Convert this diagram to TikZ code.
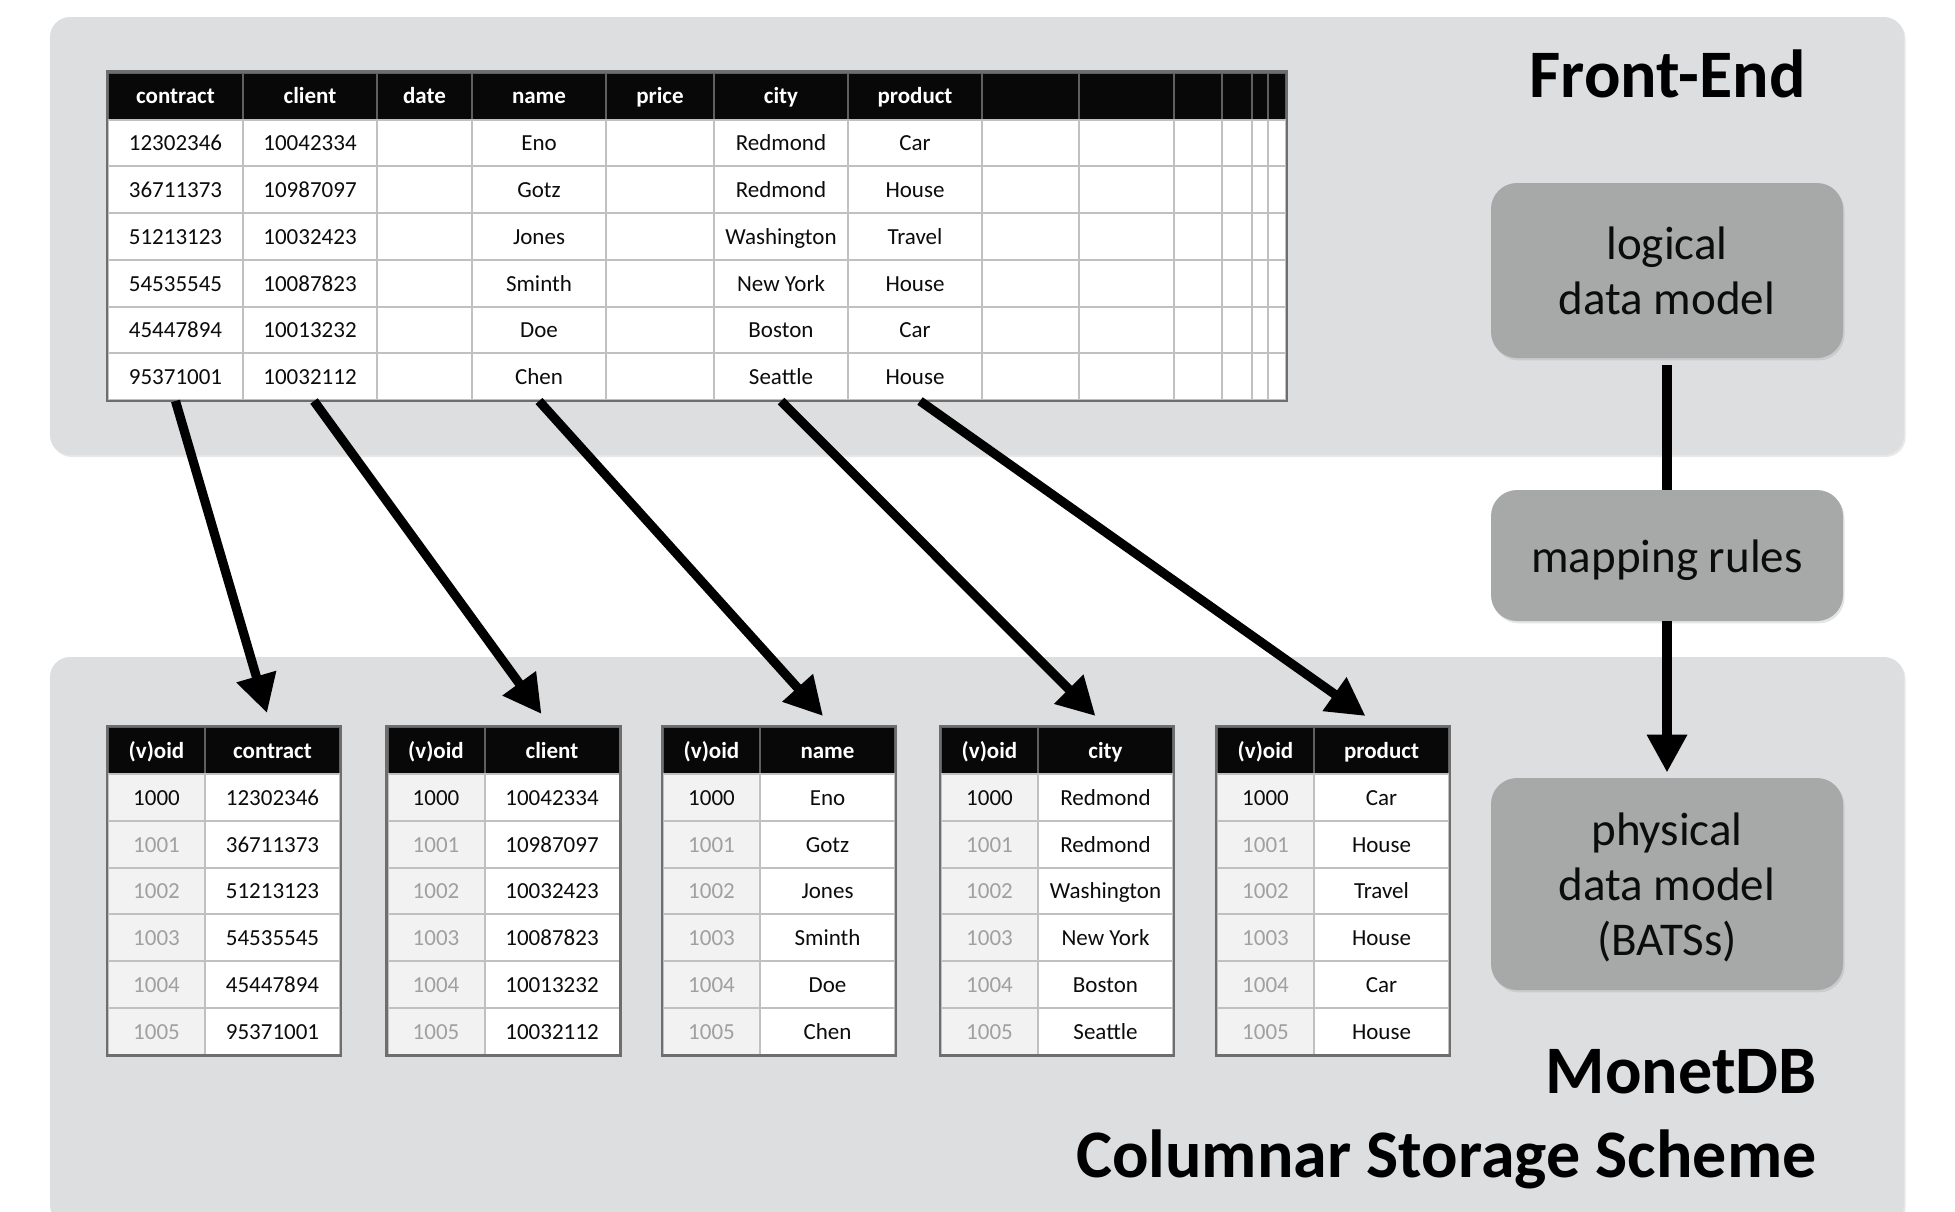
\documentclass[tikz,border=0pt]{standalone}
\usepackage{fontspec}
\setmainfont{Carlito}
\usetikzlibrary{arrows.meta,shadows}
\definecolor{panelgray}{RGB}{221,222,224}
\definecolor{boxgray}{RGB}{166,169,168}
\definecolor{gridgray}{RGB}{192,192,192}
\definecolor{edgegray}{RGB}{110,110,110}
\definecolor{hdrline}{RGB}{95,95,95}
\definecolor{voidfill}{RGB}{242,242,242}
\definecolor{oidgray}{RGB}{160,160,160}
\definecolor{hdrblack}{RGB}{8,8,8}
\definecolor{txtblack}{RGB}{12,12,12}
\begin{document}
\begin{tikzpicture}[x=0.5pt,y=-0.5pt,
  panel/.style={fill=panelgray, rounded corners=10pt,
    drop shadow={opacity=0.18, shadow xshift=0.8pt, shadow yshift=-1pt}},
  mbox/.style={fill=boxgray, rounded corners=13pt, align=center, inner sep=0pt,
    text=txtblack, font=\fontsize{23.5}{27.5}\selectfont,
    drop shadow={opacity=0.2, shadow xshift=0.8pt, shadow yshift=-1.2pt}},
  bcell/.style={draw=gridgray, line width=1pt, fill=white, rectangle, inner sep=0pt,
    minimum width={(#1)*0.5pt}, minimum height=23.375pt, anchor=north west,
    text height=9.4pt, text depth=1.5pt,
    text=txtblack, font=\fontsize{11.5}{13}\selectfont},
  vcell/.style={bcell=97, fill=voidfill},
  hcell/.style={bcell=#1, fill=hdrblack, draw=hdrline, text=white, minimum height=23.5pt,
    font=\fontsize{11.5}{13}\selectfont\bfseries},
  tableedge/.style={draw=edgegray, line width=1.2pt},
  bigarrow/.style={line width=4.6pt, -{Triangle[length=19pt,width=19.5pt]}},
  title/.style={text=black, font=\fontsize{34}{40}\selectfont\bfseries, inner sep=0pt}
]
\fill[white] (0,0) rectangle (1955,1211);
\useasboundingbox (0,0) rectangle (1955,1211);

% panels
\path[panel] (50,17) rectangle (1904,455);
\path[panel] (50,657) rectangle (1904,1225);

% front-end table header
\foreach \x/\w/\t [count=\k] in {107/135/contract, 242/134/client, 376/95/date, 471/134/name, 605/108/price, 713/134/city, 847/134/product, 981/97/{}, 1078/95/{}, 1173/48/{}, 1221/30/{}, 1251/16/{}, 1267/18/{}}
  \node[hcell=\w] (f-0-\k) at (\x,71.5) {\t};

% bottom table headers
\foreach \tx/\lab [count=\ti] in {107/contract, 386.5/client, 662/name, 940/city, 1216/product}{
  \node[hcell=97] (t\ti-0-1) at (\tx,726) {(v)oid};
  \node[hcell=135] (t\ti-0-2) at (\tx+97,726) {\lab};
}

% rows
\foreach \ri/\oc/\vA/\vB/\vN/\vC/\vP in {
  1/txtblack/12302346/10042334/Eno/Redmond/Car,
  2/oidgray/36711373/10987097/Gotz/Redmond/House,
  3/oidgray/51213123/10032423/Jones/Washington/Travel,
  4/oidgray/54535545/10087823/Sminth/New York/House,
  5/oidgray/45447894/10013232/Doe/Boston/Car,
  6/oidgray/95371001/10032112/Chen/Seattle/House}{
  \pgfmathsetmacro\yy{118.5+(\ri-1)*46.75}
  \pgfmathsetmacro\yb{773+(\ri-1)*46.75}
  \foreach \x/\w/\t [count=\k] in {107/135/\vA, 242/134/\vB, 376/95/{}, 471/134/\vN, 605/108/{}, 713/134/\vC, 847/134/\vP, 981/97/{}, 1078/95/{}, 1173/48/{}, 1221/30/{}, 1251/16/{}, 1267/18/{}}
    \node[bcell=\w] (f-\ri-\k) at (\x,\yy) {\t};
  \foreach \tx/\vv [count=\ti] in {107/\vA, 386.5/\vB, 662/\vN, 940/\vC, 1216/\vP}{
    \node[vcell, text=\oc] (t\ti-\ri-1) at (\tx,\yb) {\the\numexpr999+\ri\relax};
    \node[bcell=135] (t\ti-\ri-2) at (\tx+97,\yb) {\vv};
  }
}

% table outlines
\draw[tableedge] (f-0-1.north west) rectangle (f-6-13.south east);
\foreach \ti in {1,...,5}
  \draw[tableedge] (t\ti-0-1.north west) rectangle (t\ti-6-2.south east);

% arrow targets
\coordinate (tip1) at (267,713);
\coordinate (tip2) at (541.5,714);
\coordinate (tip3) at (823,716);
\coordinate (tip4) at (1095.5,716);
\coordinate (tip5) at (1365.5,716);
\draw[bigarrow] (f-6-1.south) -- (tip1);
\draw[bigarrow] ([xshift=2pt]f-6-2.south) -- (tip2);
\draw[bigarrow] (f-6-4.south) -- (tip3);
\draw[bigarrow] (f-6-6.south) -- (tip4);
\draw[bigarrow] ([xshift=2.5pt]f-6-7.south) -- (tip5);

% right column boxes
\node[mbox, minimum width=176pt, minimum height=87.5pt] (logical) at (1667,270.5) {logical\\data model};
\node[mbox, minimum width=176pt, minimum height=65.5pt, text height=17pt, text depth=0pt] (mapping) at (1667,555.5) {mapping rules};
\node[mbox, minimum width=176pt, minimum height=106pt, text depth=0pt] (physical) at (1667,884) {physical\\data model\\(BATSs)};
\draw[line width=5pt] ([yshift=-3.5pt]logical.south) -- (mapping.north);
\draw[line width=5pt, -{Triangle[length=19pt,width=19pt]}] (mapping.south) -- ([yshift=2.5pt]physical.north);

% titles
\node[title, anchor=base] (fe) at (1667.5,97) {Front-End};
\node[title, anchor=base east] (mdb) at (1817,1093) {MonetDB};
\node[title, anchor=base east] (css) at (1817,1177) {Columnar Storage Scheme};
\end{tikzpicture}
\end{document}
